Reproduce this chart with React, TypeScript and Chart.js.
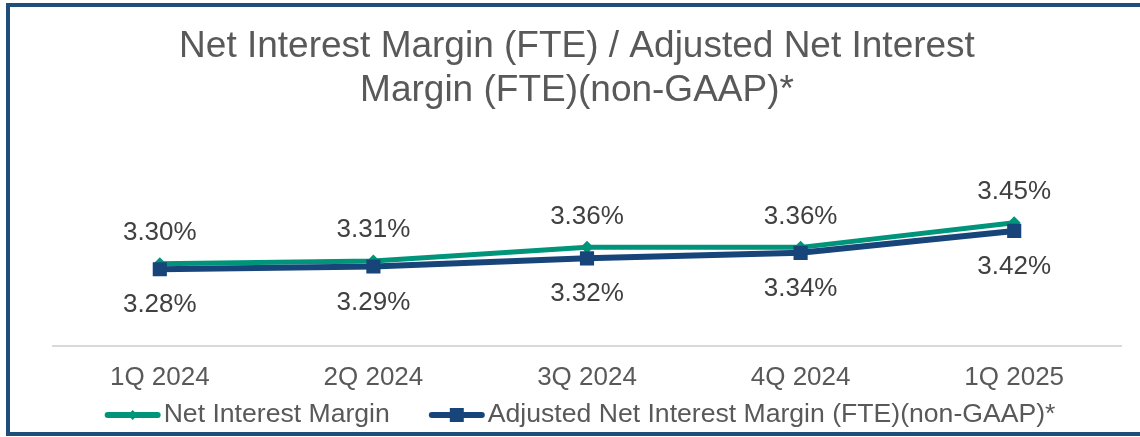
import React, { useEffect, useRef } from "react";
import { Chart, registerables } from "chart.js";

Chart.register(...registerables);

const categories = ["1Q 2024", "2Q 2024", "3Q 2024", "4Q 2024", "1Q 2025"];
const nimValues = [3.3, 3.31, 3.36, 3.36, 3.45];
const adjValues = [3.28, 3.29, 3.32, 3.34, 3.42];
const seriesNames = ["Net Interest Margin", "Adjusted Net Interest Margin (FTE)(non-GAAP)*"];
const titleLines = ["Net Interest Margin (FTE) / Adjusted Net Interest", "Margin (FTE)(non-GAAP)*"];
const yMin = 3.0;
const yMax = 3.6;

const FONT = "'Liberation Sans', Arial, Helvetica, sans-serif";
const GREEN = "#00957A";
const NAVY = "#17457A";
const BORDER = "#1F4E79";

const dataLabelPlugin = {
  id: "pctLabels",
  afterDatasetsDraw(chart: any) {
    const ctx = chart.ctx;
    ctx.save();
    ctx.font = `26px ${FONT}`;
    ctx.fillStyle = "#404040";
    ctx.textAlign = "center";
    ctx.textBaseline = "middle";
    chart.data.datasets.forEach((ds: any, i: number) => {
      const meta = chart.getDatasetMeta(i);
      meta.data.forEach((pt: any, j: number) => {
        ctx.fillText(Number(ds.data[j]).toFixed(2) + "%", pt.x, pt.y + ds.labelOffset);
      });
    });
    ctx.restore();
  },
};

const legendPlugin = {
  id: "lineLegend",
  afterDraw(chart: any) {
    const ctx = chart.ctx;
    ctx.save();
    ctx.font = `26.6px ${FONT}`;
    ctx.textBaseline = "middle";
    ctx.textAlign = "left";
    const lineW = 56;
    const textGap = 3;
    const itemGap = 39;
    const items = chart.data.datasets.map((ds: any) => ({ ds, w: ctx.measureText(ds.label).width }));
    const total =
      items.reduce((s: number, it: any) => s + lineW + textGap + it.w, 0) + itemGap * (items.length - 1);
    let x = chart.width / 2 + 10 - total / 2;
    const y = chart.height - 22;
    items.forEach((it: any) => {
      const ds = it.ds;
      ctx.strokeStyle = ds.borderColor;
      ctx.lineWidth = 6;
      ctx.lineCap = "round";
      ctx.beginPath();
      ctx.moveTo(x + 3, y);
      ctx.lineTo(x + lineW - 3, y);
      ctx.stroke();
      const cx = x + lineW / 2;
      ctx.fillStyle = ds.borderColor;
      ctx.beginPath();
      if (ds.pointStyle === "rectRot") {
        const r = 5;
        ctx.moveTo(cx, y - r);
        ctx.lineTo(cx + r, y);
        ctx.lineTo(cx, y + r);
        ctx.lineTo(cx - r, y);
        ctx.closePath();
      } else {
        ctx.rect(cx - 7, y - 7, 14, 14);
      }
      ctx.fill();
      ctx.fillStyle = "#595959";
      ctx.fillText(ds.label, x + lineW + textGap, y);
      x += lineW + textGap + it.w + itemGap;
    });
    ctx.restore();
  },
};

export default function App() {
  const canvasRef = useRef<HTMLCanvasElement | null>(null);

  useEffect(() => {
    if (!canvasRef.current) return;
    const chart = new Chart(canvasRef.current, {
      type: "line",
      data: {
        labels: categories,
        datasets: [
          {
            label: seriesNames[0],
            data: nimValues,
            borderColor: GREEN,
            backgroundColor: GREEN,
            borderWidth: 5,
            pointStyle: "rectRot",
            pointRadius: 6.5,
            pointBorderWidth: 0,
            tension: 0,
            order: 1,
            labelOffset: -31,
          } as any,
          {
            label: seriesNames[1],
            data: adjValues,
            borderColor: NAVY,
            backgroundColor: NAVY,
            borderWidth: 6,
            pointStyle: "rect",
            pointRadius: 10,
            pointBorderWidth: 0,
            tension: 0,
            order: 0,
            labelOffset: 36,
          } as any,
        ],
      },
      options: {
        animation: false,
        responsive: true,
        maintainAspectRatio: false,
        events: [],
        layout: { padding: { left: 33, right: 19, top: 0, bottom: 27 } },
        plugins: {
          legend: { display: false },
          tooltip: { enabled: false },
          title: {
            display: true,
            text: titleLines,
            color: "#595959",
            font: { family: FONT, size: 37, weight: "normal", lineHeight: 44 / 37 },
            padding: { top: 24.7, bottom: 68.9 },
          },
        },
        scales: {
          x: {
            offset: true,
            grid: { display: false, drawTicks: false },
            border: { display: true, color: "#D9D9D9", width: 2 },
            ticks: {
              color: "#595959",
              font: { family: FONT, size: 26 },
              padding: 16.4,
              maxRotation: 0,
              autoSkip: false,
            },
          },
          y: {
            display: true,
            min: yMin,
            max: yMax,
            grid: { display: false, drawTicks: false },
            border: { display: false },
            ticks: { display: false },
            afterFit: (s: any) => {
              s.width = 20;
            },
          },
        },
      },
      plugins: [dataLabelPlugin, legendPlugin],
    });
    return () => chart.destroy();
  }, []);

  return (
    <div
      style={{
        position: "absolute",
        left: 0,
        top: 0,
        width: 1140,
        height: 437,
        overflow: "hidden",
        background: "#FFFFFF",
      }}
    >
      <div style={{ position: "absolute", left: 0, top: 0, width: 1140, height: 437 }}>
        <canvas ref={canvasRef} />
      </div>
      <div
        style={{
          position: "absolute",
          left: 6,
          top: 3,
          width: 1200,
          height: 433,
          boxSizing: "border-box",
          border: `4px solid ${BORDER}`,
          pointerEvents: "none",
        }}
      />
    </div>
  );
}
